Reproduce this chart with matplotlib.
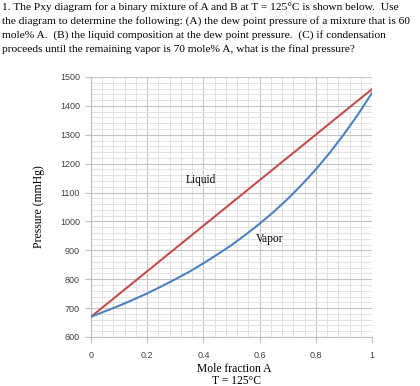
import numpy as np
import matplotlib.pyplot as plt
from matplotlib.ticker import MultipleLocator

plt.switch_backend('Agg')

# === Data ===
x_liquid = [0.0, 0.5, 1.0]
p_liquid = [670, 1064, 1458]

y_vapor = [0.0, 0.05, 0.10, 0.15, 0.20, 0.25, 0.30, 0.35, 0.40, 0.45, 0.50,
           0.55, 0.60, 0.65, 0.70, 0.75, 0.80, 0.85, 0.90, 0.95, 1.0]
p_vapor = [670, 689, 708, 729, 751, 775, 800, 826, 855, 886, 918,
           954, 992, 1033, 1078, 1127, 1180, 1238, 1302, 1370, 1445]

x_ticks = [0, 0.2, 0.4, 0.6, 0.8, 1]
x_tick_labels = ['0', '0.2', '0.4', '0.6', '0.8', '1']
y_ticks = [600, 700, 800, 900, 1000, 1100, 1200, 1300, 1400, 1500]

question = [
    "1. The Pxy diagram for a binary mixture of A and B at T = 125\u00b0C is shown below.  Use",
    "the diagram to determine the following: (A) the dew point pressure of a mixture that is 60",
    "mole% A.  (B) the liquid composition at the dew point pressure.  (C) if condensation",
    "proceeds until the remaining vapor is 70 mole% A, what is the final pressure?",
]

serif = ['Liberation Serif', 'DejaVu Serif']
tick_font = ['Liberation Sans', 'DejaVu Sans']

fig = plt.figure(figsize=(4.2, 3.86), dpi=100)
fig.patch.set_facecolor('white')

# question text above the chart
for i, line in enumerate(question):
    fig.text(2 / 420, 1 - (2 + i * 14) / 386, line, family=serif,
             fontsize=8.2, va='top', ha='left', color='black')

ax = fig.add_axes([91 / 420, 1 - 337 / 386, 281 / 420, 260 / 386])

ax.plot(x_liquid, p_liquid, color='#C0504D', lw=1.5, zorder=3)
ax.plot(y_vapor, p_vapor, color='#4F81BD', lw=1.5, zorder=3)

ax.text(0.39, 1145, 'Liquid', family=serif, fontsize=8.3, ha='center', va='center')
ax.text(0.635, 940, 'Vapor', family=serif, fontsize=8.3, ha='center', va='center')

ax.set_xlim(0, 1)
ax.set_ylim(600, 1500)
ax.set_xticks(x_ticks)
ax.set_xticklabels(x_tick_labels)
ax.set_yticks(y_ticks)
ax.xaxis.set_minor_locator(MultipleLocator(0.04))
ax.yaxis.set_minor_locator(MultipleLocator(20))

ax.grid(which='major', color='#C4C4C4', lw=0.8, zorder=0)
ax.grid(which='minor', color='#E2E2E2', lw=0.7, zorder=0)
ax.set_axisbelow(True)

for side in ['top', 'right']:
    ax.spines[side].set_visible(False)
for side in ['left', 'bottom']:
    ax.spines[side].set_color('#BEBEBE')
    ax.spines[side].set_linewidth(0.8)

ax.tick_params(which='major', length=4, width=0.8, color='#BEBEBE',
               labelsize=6.5, labelcolor='#404040')
ax.tick_params(which='minor', length=0)
ax.tick_params(axis='x', pad=6)
ax.tick_params(axis='y', pad=4)
for lab in ax.get_xticklabels() + ax.get_yticklabels():
    lab.set_family(tick_font)

ax.set_ylabel('Pressure (mmHg)', family=serif, fontsize=8.5, labelpad=11)
fig.text(234 / 420, 1 - 369 / 386, 'Mole fraction A', family=serif,
         fontsize=8.4, ha='center', va='center')
fig.text(236 / 420, 1 - 381 / 386, 'T = 125\u00b0C', family=serif,
         fontsize=8.4, ha='center', va='center')

fig.savefig('out.png', dpi=100, facecolor='white')
